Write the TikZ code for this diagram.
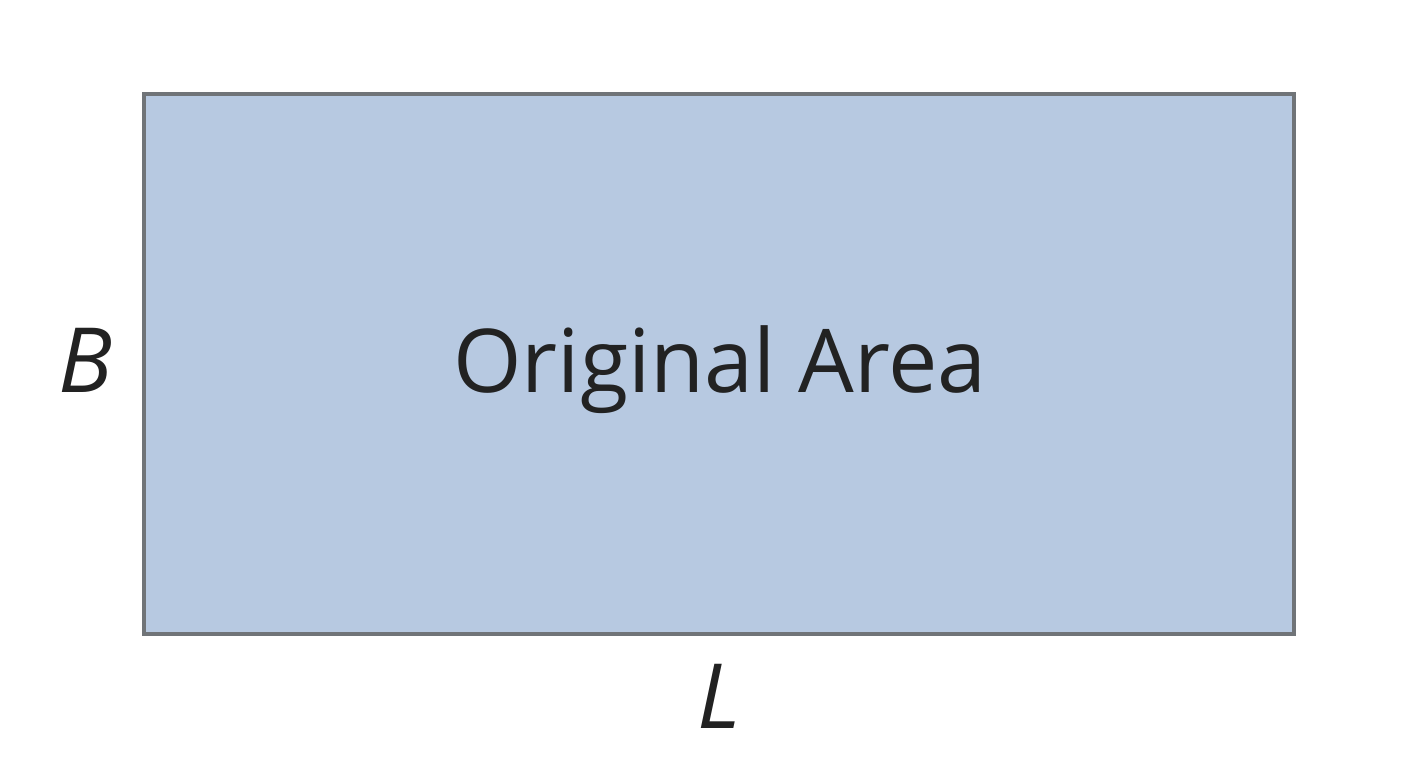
\documentclass[tikz,border=0pt]{standalone}
\usepackage{fontspec}
\setmainfont{Open Sans}
\definecolor{boxfill}{HTML}{B7C9E1}
\definecolor{boxline}{HTML}{707478}
\definecolor{txt}{HTML}{222222}
\begin{document}
\begin{tikzpicture}[x=1pt,y=-1pt,
  lbl/.style={text=txt,font=\fontsize{90}{100}\selectfont\itshape,inner sep=0pt,anchor=base},
  area/.style={draw=boxline,line width=4pt,fill=boxfill}]
\useasboundingbox[fill=white] (0,0) rectangle (1408,768);
\draw[area] (144,94) rectangle (1294,634);
\node[text=txt,font=\fontsize{88}{100}\selectfont,inner sep=0pt,anchor=base] (t) at (720,392) {Original Area};
\node[lbl] (b) at (86,392) {B};
\node[lbl] (l) at (719,728) {L};
\end{tikzpicture}
\end{document}
